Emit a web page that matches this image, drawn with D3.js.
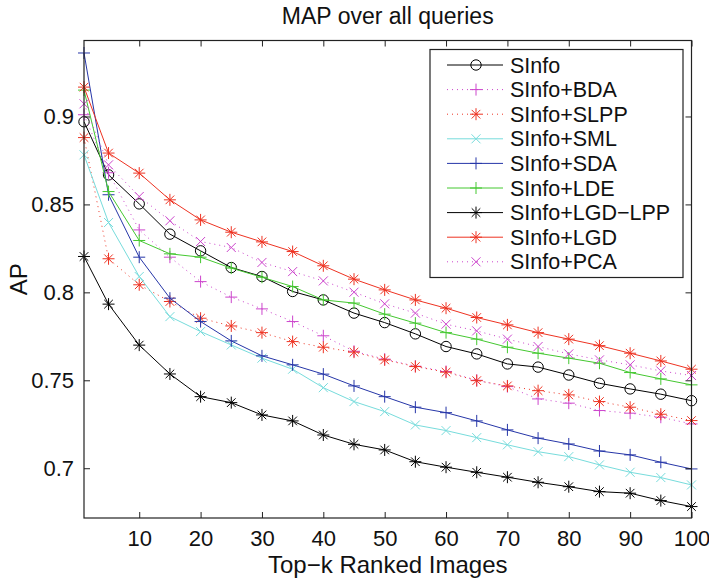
<!DOCTYPE html>
<html><head><meta charset="utf-8">
<script src="https://cdn.jsdelivr.net/npm/d3@7"></script>
<style>body{margin:0;background:#fff}svg{display:block}text{font-family:"Liberation Sans",Arial,Helvetica,sans-serif;fill:#111}</style>
</head><body><svg id="c" width="709" height="580"></svg>
<script>
const kValues = [1,5,10,15,20,25,30,35,40,45,50,55,60,65,70,75,80,85,90,95,100];
const xTicks = [10,20,30,40,50,60,70,80,90,100];
const yTicks = [0.7,0.75,0.8,0.85,0.9];
const yTickLabels = ["0.7","0.75","0.8","0.85","0.9"];
const seriesNames = ["SInfo","SInfo+BDA","SInfo+SLPP","SInfo+SML","SInfo+SDA","SInfo+LDE","SInfo+LGD\u2212LPP","SInfo+LGD","SInfo+PCA"];
const sinfo  = [0.897,0.8668,0.8503,0.8331,0.8236,0.8141,0.809,0.8005,0.7957,0.7882,0.7828,0.7764,0.7692,0.765,0.7593,0.7575,0.753,0.7483,0.7451,0.7421,0.7384];
const bda    = [0.901,0.868,0.8355,0.82,0.8061,0.7973,0.7906,0.7834,0.7753,0.7665,0.762,0.758,0.755,0.750,0.7464,0.7394,0.737,0.7328,0.7313,0.729,0.7252];
const slpp   = [0.888,0.8191,0.8043,0.7948,0.7853,0.7809,0.7771,0.772,0.7688,0.766,0.7616,0.7578,0.7546,0.7498,0.7468,0.7441,0.7417,0.7379,0.7347,0.7307,0.7271];
const sml    = [0.8782,0.8397,0.809,0.7862,0.7777,0.7701,0.7626,0.7563,0.7458,0.7379,0.7322,0.7246,0.7214,0.7174,0.7133,0.7094,0.7066,0.7019,0.6977,0.6947,0.6905];
const sda    = [0.9361,0.8555,0.82,0.7967,0.7834,0.7724,0.7639,0.7588,0.7535,0.7468,0.7407,0.7347,0.7316,0.7269,0.7218,0.7171,0.7138,0.7098,0.7076,0.7034,0.6996];
const lde    = [0.915,0.8573,0.8295,0.8219,0.82,0.8138,0.8086,0.8033,0.7957,0.7939,0.7876,0.7825,0.7771,0.7734,0.7688,0.7654,0.7626,0.7597,0.7544,0.7508,0.7474];
const lgdlpp = [0.8204,0.7933,0.77,0.7536,0.7407,0.7373,0.7303,0.7269,0.7189,0.7136,0.7104,0.7037,0.7006,0.6977,0.6949,0.692,0.6895,0.6867,0.6858,0.6816,0.6782];
const lgd    = [0.9167,0.8792,0.8678,0.8526,0.8412,0.8342,0.8287,0.8232,0.8151,0.8075,0.8014,0.7957,0.791,0.7857,0.7815,0.7771,0.7734,0.7697,0.7654,0.761,0.7563];
const pca    = [0.9072,0.8725,0.8545,0.8407,0.8289,0.8255,0.817,0.8118,0.8065,0.8001,0.7935,0.7882,0.7819,0.7781,0.7734,0.7692,0.765,0.7616,0.7588,0.7553,0.7527];

const seriesValues = [sinfo,bda,slpp,sml,sda,lde,lgdlpp,lgd,pca];
const colors  = ["#000000","#cc44cc","#ee3322","#77dcdc","#2636a8","#44c830","#000000","#ee3322","#cc44cc"];
const markers = ["o","+","*","x","+","+","*","*","x"];
const dotted  = [false,true,true,false,false,false,false,false,true];

const svg = d3.select("#c");
const L=84, R=691.5, T=40.5, B=518;
const x = d3.scaleLinear().domain([1,100]).range([L,R]);
const y = d3.scaleLinear().domain([0.6717,0.9432]).range([B,T]);

function drawMarker(g, type, cx, cy, color){
  const s = g.append("g").attr("transform",`translate(${cx},${cy})`)
    .attr("stroke",color).attr("fill","none").attr("stroke-width",1);
  if(type==="o"){ s.append("circle").attr("r",5.2); }
  if(type==="+"||type==="*"){
    s.append("line").attr("x1",-6).attr("x2",6).attr("y1",0).attr("y2",0);
    s.append("line").attr("x1",0).attr("x2",0).attr("y1",-6).attr("y2",6);
  }
  if(type==="*"){
    s.append("line").attr("x1",-4.3).attr("x2",4.3).attr("y1",-4.3).attr("y2",4.3);
    s.append("line").attr("x1",-4.3).attr("x2",4.3).attr("y1",4.3).attr("y2",-4.3);
  }
  if(type==="x"){
    s.append("line").attr("x1",-4.5).attr("x2",4.5).attr("y1",-4.5).attr("y2",4.5);
    s.append("line").attr("x1",-4.5).attr("x2",4.5).attr("y1",4.5).attr("y2",-4.5);
  }
}

// series
const line = d3.line().x((d,i)=>x(kValues[i])).y(d=>y(d));
seriesValues.forEach((vals,si)=>{
  const g = svg.append("g");
  g.append("path").attr("d",line(vals)).attr("fill","none")
    .attr("stroke",colors[si]).attr("stroke-width",1)
    .attr("stroke-dasharray",dotted[si]?"1,4":null);
  vals.forEach((v,i)=>drawMarker(g,markers[si],x(kValues[i]),y(v),colors[si]));
});

// axes box and ticks
const ax = svg.append("g");
const xb = d3.axisBottom(x).tickValues(xTicks).tickSize(-6).tickPadding(12).tickFormat(d3.format("d"));
const xt = d3.axisTop(x).tickValues(xTicks).tickSize(-6).tickFormat("");
const yl = d3.axisLeft(y).tickValues(yTicks).tickSize(-6).tickPadding(10).tickFormat((d,i)=>yTickLabels[i]);
const yr = d3.axisRight(y).tickValues(yTicks).tickSize(-6).tickFormat("");
ax.append("g").attr("transform",`translate(0,${B})`).call(xb);
ax.append("g").attr("transform",`translate(0,${T})`).call(xt);
ax.append("g").attr("transform",`translate(${L},0)`).call(yl);
ax.append("g").attr("transform",`translate(${R},0)`).call(yr);
ax.selectAll(".domain").remove();
ax.selectAll(".tick line").attr("stroke","#222");
ax.selectAll(".tick text").attr("font-size",22).style("font-family","Liberation Sans, Arial, sans-serif").attr("fill","#111");
svg.append("rect").attr("x",L).attr("y",T).attr("width",R-L).attr("height",B-T)
  .attr("fill","none").attr("stroke","#222").attr("stroke-width",1.2);

// labels
svg.append("text").attr("x",(L+R)/2).attr("y",24).attr("text-anchor","middle").attr("font-size",23).text("MAP over all queries");
svg.append("text").attr("x",(L+R)/2).attr("y",573).attr("text-anchor","middle").attr("font-size",24).text("Top\u2212k Ranked Images");
svg.append("text").attr("transform",`translate(27,${(T+B)/2}) rotate(-90)`).attr("text-anchor","middle").attr("font-size",24).text("AP");

// legend
const lg = svg.append("g");
const lx=430, ly=49.5, lw=253, lh=228;
lg.append("rect").attr("x",lx).attr("y",ly).attr("width",lw).attr("height",lh).attr("fill","#fff").attr("stroke","#222").attr("stroke-width",1.2);
seriesNames.forEach((name,i)=>{
  const cy = 65 + i*24.6;
  lg.append("line").attr("x1",447).attr("x2",503).attr("y1",cy).attr("y2",cy)
    .attr("stroke",colors[i]).attr("stroke-width",1).attr("stroke-dasharray",dotted[i]?"1,4":null);
  drawMarker(lg,markers[i],476,cy,colors[i]);
  lg.append("text").attr("x",510).attr("y",cy+7.5).attr("font-size",21.5).text(name);
});
</script></body></html>
